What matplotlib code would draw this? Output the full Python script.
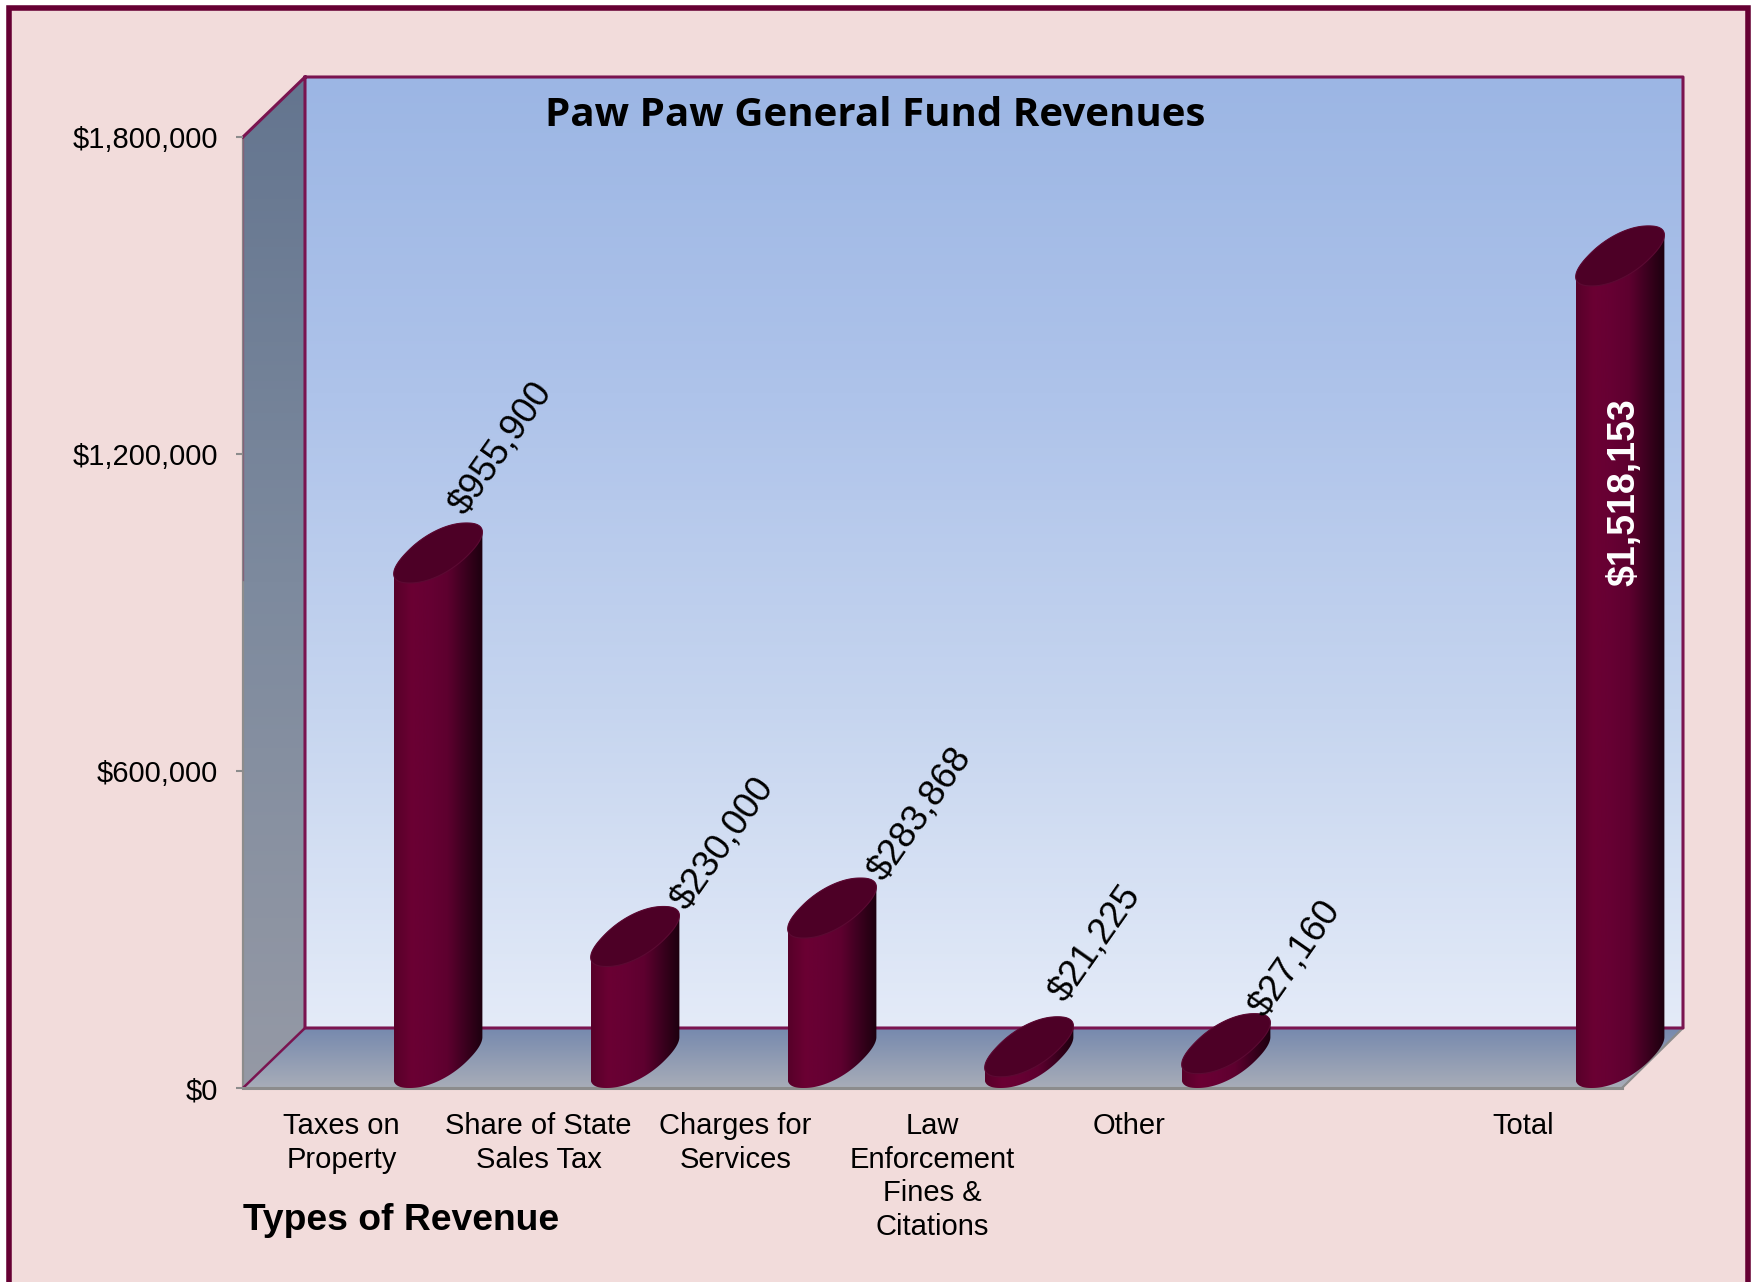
import numpy as np
import matplotlib
matplotlib.use('Agg')
import matplotlib.pyplot as plt
from matplotlib.colors import LinearSegmentedColormap
from matplotlib.patches import Polygon, Rectangle

# chart data
categories = ['Taxes on\nProperty', 'Share of State\nSales Tax', 'Charges for\nServices',
              'Law\nEnforcement\nFines &\nCitations', 'Other', '', 'Total']
bar_slots = [0, 1, 2, 3, 4, 6]
values = [955900, 230000, 283868, 21225, 27160, 1518153]
bar_labels = ['$955,900', '$230,000', '$283,868', '$21,225', '$27,160', '$1,518,153']
y_ticks = [0, 600000, 1200000, 1800000]
y_tick_labels = ['$0', '$600,000', '$1,200,000', '$1,800,000']

# label offsets from bar top in pixels, last one sits inside the bar
label_shift = [(63, 135), (88, 123), (88, 124), (66, 133), (69, 115), (4, -206)]

W, H = 1751, 1282
MAROON = '#660033'
EDGE = '#7a1450'
GREY = '#8c8c8c'

plt.rcParams['font.family'] = 'Liberation Sans'
fig = plt.figure(figsize=(W / 100, H / 100), dpi=100, facecolor='white')

# background layer in pixel coords
bg = fig.add_axes([0, 0, 1, 1], zorder=0)
bg.set_xlim(0, W)
bg.set_ylim(H, 0)
bg.axis('off')
bg.add_patch(Rectangle((8.5, 7.5), 1751 - 3 - 8.5, 1300, fc='#f2dcdb', ec=MAROON, lw=4))


def grad_poly(ax, pts, stops, horizontal=False, zorder=1):
    cmap = LinearSegmentedColormap.from_list('g', stops)
    g = np.linspace(0, 1, 256)
    g = g.reshape(1, -1) if horizontal else g.reshape(-1, 1)
    xs = [p[0] for p in pts]
    ys = [p[1] for p in pts]
    im = ax.imshow(g, cmap=cmap, aspect='auto', origin='upper', zorder=zorder,
                   extent=(min(xs), max(xs), max(ys), min(ys)))
    clip = Polygon(pts, closed=True, transform=ax.transData)
    im.set_clip_path(clip)
    im.set_clip_box(fig.bbox)


x0, x1, xb0, xb1 = 243, 1622, 305, 1683
y0, y1, yb0, yb1 = 1088, 137, 1028, 77

grad_poly(bg, [(xb0, yb1), (xb1, yb1), (xb1, yb0), (xb0, yb0)],
          ['#9cb6e4', '#aec3ea', '#c6d5ef', '#e4ebf8'])
grad_poly(bg, [(x0, y1), (xb0, yb1), (xb0, yb0), (x0, y0)], ['#64758f', '#7d8a9e', '#9599a5'])
grad_poly(bg, [(xb0, yb0), (xb1, yb0), (x1, y0), (x0, y0)], ['#7689ae', '#a8adb8'])
bg.set_xlim(0, W)
bg.set_ylim(H, 0)

# wall outlines
bg.plot([x0, xb0, xb1, xb1, xb0, xb0], [y1, yb1, yb1, yb0, yb0, yb1], color=EDGE, lw=2.2, zorder=3)
bg.plot([x0, xb0], [y0, yb0], color=EDGE, lw=1.8, zorder=3)
bg.plot([x0, x0], [y1, 580], color=EDGE, lw=1, alpha=0.35, zorder=3)
bg.plot([x0, x0], [y1, y0], color=GREY, lw=1.6, zorder=2)
bg.plot([x0, x1], [y0, y0], color=GREY, lw=2.2, zorder=4)
bg.plot([x1, xb1], [y0, yb0], color=GREY, lw=1.6, zorder=2)

# data axes sit on the front plane
ax = fig.add_axes([x0 / W, 1 - y0 / H, (x1 - x0) / W, (y0 - y1) / H], zorder=1)
ax.patch.set_alpha(0)
for s in ax.spines.values():
    s.set_visible(False)

ux = 7 / (x1 - x0)
uy = 1800000 / (y0 - y1)
bar_w, bar_d, bar_h = 64 * ux, 57 * ux, 60 * uy
shift = 0.49
body_stops = ['#570029', '#6b0033', '#660033', '#5e002f', '#3c001f', '#1c000e']


def ring(cx, cy, t, p=0.9):
    # slightly squared ellipse, sheared along the chart depth
    c = np.sign(np.cos(t)) * np.abs(np.cos(t)) ** p
    s = np.sign(np.sin(t)) * np.abs(np.sin(t)) ** p
    return np.column_stack([cx + bar_w / 2 * c + bar_d / 2 * s, cy + bar_h / 2 * s])


tt = np.linspace(0, 2 * np.pi, 360, endpoint=False)
for i, (slot, val) in enumerate(zip(bar_slots, values)):
    cx = slot + shift
    ref = ring(cx, 0, tt)
    i_r, i_l = ref[:, 0].argmax(), ref[:, 0].argmin()
    t_r, t_l = tt[i_r], tt[i_l]
    if t_l < t_r:
        t_l += 2 * np.pi
    top = ring(cx, val + bar_h / 2, np.linspace(t_r, t_l, 120))
    low = ring(cx, bar_h / 2, np.linspace(t_l, t_r + 2 * np.pi, 120))
    body = np.vstack([top, low])
    grad_poly(ax, [tuple(p) for p in body], body_stops, horizontal=True, zorder=5)
    cap = ring(cx, val + bar_h / 2, tt)
    ax.add_patch(Polygon(cap, closed=True, fc='#4d0026', ec='#5c0a33', lw=0.8, zorder=6, clip_on=False))
    inside = i == len(values) - 1
    ax.annotate(bar_labels[i], xy=(cx, val), xytext=label_shift[i], textcoords='offset pixels',
                ha='center', va='center', rotation=90 if inside else 55, rotation_mode='anchor',
                fontsize=27 if inside else 26.5, fontweight='bold' if inside else 'normal',
                color='white' if inside else 'black', zorder=8, annotation_clip=False)

ax.set_xlim(-0.5, 6.5)
ax.set_ylim(0, 1800000)
ax.set_yticks(y_ticks)
ax.set_yticklabels(y_tick_labels, fontsize=21)
ax.set_xticks(range(len(categories)))
ax.set_xticklabels(categories, fontsize=21, linespacing=1.27)
ax.tick_params(axis='y', length=5, width=1.5, color=GREY, pad=13)
ax.tick_params(axis='x', length=0, pad=17)

# titles
fig.text(875 / W, 1 - 115 / H, 'Paw Paw General Fund Revenues', family='Open Sans', fontweight='bold',
         fontsize=29, ha='center', va='center', color='black', zorder=10)
fig.text(243 / W, 1 - 1220 / H, 'Types of Revenue', fontweight='bold', fontsize=26.8,
         ha='left', va='center', color='black', zorder=10)

fig.savefig('out.png', dpi=100)
